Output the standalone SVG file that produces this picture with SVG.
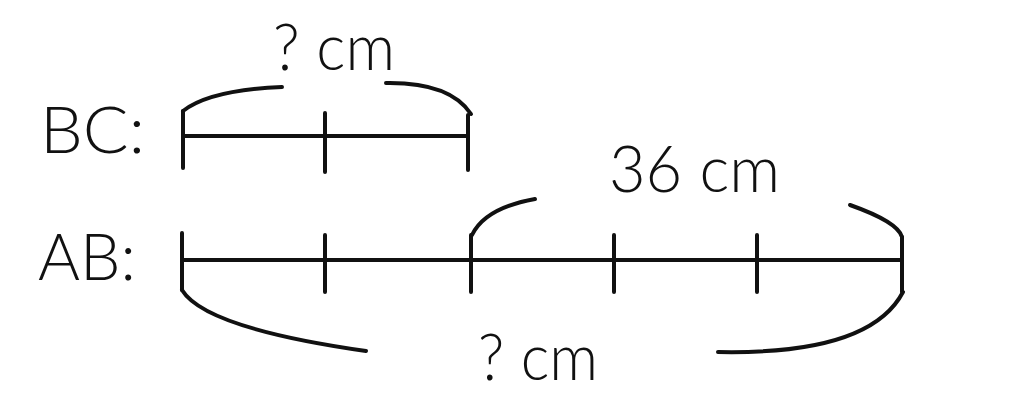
<svg xmlns="http://www.w3.org/2000/svg" width="1024" height="411" viewBox="0 0 1024 411">
<style>
.t{font-family:Lato,"Liberation Sans",sans-serif;font-weight:300;font-size:66px;fill:#111}
.ln{stroke:#111;stroke-width:4;fill:none;stroke-linecap:round;stroke-linejoin:round}
</style>
<rect width="1024" height="411" fill="#fff"/>
<g id="labels">
<text class="t" x="40" y="153" textLength="105" lengthAdjust="spacingAndGlyphs">BC:</text>
<text class="t" x="38" y="280" textLength="98" lengthAdjust="spacingAndGlyphs">AB:</text>
</g>
<g id="segment-BC">
<path class="ln" d="M183 136H468M183 111V168M325 113V172M468 115V170"/>
</g>
<g id="segment-AB">
<path class="ln" d="M182 260H902M182 233V290M325 235V292M471 235V292M614 235V292M757 235V292M902 237V292"/>
</g>
<g id="connectors">
<path class="ln" d="M183 111Q210 90 282 87"/>
<path class="ln" d="M386 83Q450 82 471 114"/>
<path class="ln" d="M472 235Q485 208 535 199"/>
<path class="ln" d="M850 205Q898 222 902 237"/>
<path class="ln" d="M182 290Q205 328 366 351"/>
<path class="ln" d="M718 352Q870 355 903 292"/>
</g>
<g id="measures">
<text class="t" x="273" y="70" textLength="122" lengthAdjust="spacingAndGlyphs">? cm</text>
<text class="t" x="609" y="192" textLength="171" lengthAdjust="spacingAndGlyphs">36 cm</text>
<text class="t" x="478" y="380" textLength="120" lengthAdjust="spacingAndGlyphs">? cm</text>
</g>
</svg>
